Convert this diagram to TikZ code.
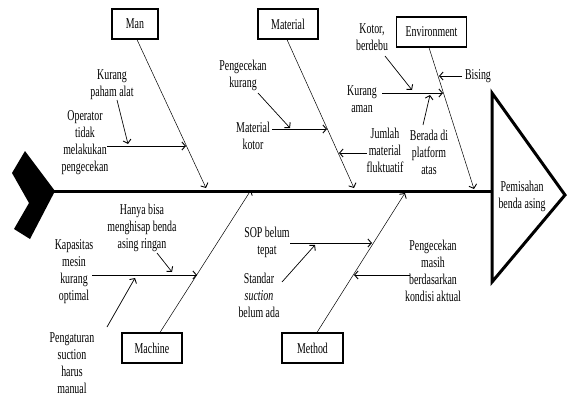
\documentclass[tikz,border=0pt]{standalone}
\usepackage{fontspec}
\setmainfont{Liberation Serif}[FakeStretch=0.66]
\usetikzlibrary{arrows.meta}

\tikzset{
  catbox/.style={draw,line width=1.2pt,minimum height=30pt,inner sep=2pt,font=\fontsize{15}{16}\selectfont},
  cause/.style={align=center,inner sep=0.75pt,font=\fontsize{15}{17}\selectfont},
  bone/.style={line width=0.5pt,-{Straight Barb[length=3.5pt,width=8pt,line width=0.9pt]}},
  sub/.style={line width=0.7pt,-{Straight Barb[length=3.5pt,width=8pt,line width=0.9pt]}},
}

\begin{document}
\begin{tikzpicture}[x=1pt,y=1pt,yscale=-1,xscale=1]
\useasboundingbox (0,0) rectangle (570,396);

%Shape: Tail
\fill (25,151) -- (55,191) -- (30,239) -- (14,229) -- (29,203) -- (12,173) -- cycle ;
%Shape: Head
\draw [line width=3pt,line join=miter] (492,93) -- (565,195) -- (492,282) -- cycle ;
%Straight Lines: Spine
\coordinate (spinestart) at (53,191);
\coordinate (spineend) at (492,191);
\draw [line width=3pt] (spinestart) -- (spineend) ;

% Text Node
\node [cause] (effect) at (522,196) {Pemisahan\\benda asing};

% Category boxes
\node [catbox,minimum width=46pt] (man) at (135,24) {Man};
\node [catbox,minimum width=60pt] (material) at (288,24) {Material};
\node [catbox,minimum width=70pt] (environment) at (431.5,32) {Environment};
\node [catbox,minimum width=60pt] (machine) at (152,348) {Machine};
\node [catbox,minimum width=61pt] (method) at (312.5,348) {Method};

% Bones
\coordinate (manend) at (206,188);
\coordinate (materialend) at (354,188);
\coordinate (environmentend) at (474,189);
\coordinate (machineend) at (251,190);
\coordinate (methodend) at (405,193);
\draw [bone] ([xshift=2pt]man.south) -- (manend) ;
\draw [bone] ([xshift=-1pt]material.south) -- (materialend) ;
\draw [bone] ([xshift=-2.5pt]environment.south) -- (environmentend) ;
\draw [bone] ([xshift=8pt]machine.north) -- (machineend) ;
\draw [bone] ([xshift=4.5pt]method.north) -- (methodend) ;

% Text Node: Man
\node [cause] (operator) at (85,143) {Operator\\tidak\\melakukan\\pengecekan};
\node [cause] (paham) at (112,85) {Kurang\\paham alat};
\coordinate (operatorstart) at (107,146);
\coordinate (operatorend) at (186,146);
\coordinate (pahamstart) at (117,100);
\coordinate (pahamend) at (128,144);
\draw [sub] (operatorstart) -- (operatorend) ;
\draw [sub] (pahamstart) -- (pahamend) ;

% Text Node: Material
\node [cause] (pengkurang) at (243,75) {Pengecekan\\kurang};
\node [cause] (matkotor) at (253,136) {Material\\kotor};
\node [cause] (jumlah) at (385,150) {Jumlah\\material\\fluktuatif};
\coordinate (pengkurangstart) at (258,93);
\coordinate (pengkurangend) at (290,128);
\coordinate (matkotorstart) at (272,129);
\coordinate (matkotorend) at (327,129);
\coordinate (jumlahstart) at (367,153);
\coordinate (jumlahend) at (339,153);
\draw [sub] (pengkurangstart) -- (pengkurangend) ;
\draw [sub] (matkotorstart) -- (matkotorend) ;
\draw [sub] (jumlahstart) -- (jumlahend) ;

% Text Node: Environment
\node [cause] (kotor) at (372,37) {Kotor,\\berdebu};
\node [cause] (aman) at (362,99) {Kurang\\aman};
\node [cause] (bising) at (478,76) {Bising};
\node [cause] (berada) at (429,152) {Berada di\\platform\\atas};
\coordinate (kotorstart) at (385,56);
\coordinate (kotorend) at (412,90);
\coordinate (amanstart) at (382,93);
\coordinate (amanend) at (443,93);
\coordinate (bisingstart) at (462,76);
\coordinate (bisingend) at (439,76);
\coordinate (beradastart) at (423,125);
\coordinate (beradaend) at (430,95);
\draw [sub] (kotorstart) -- (kotorend) ;
\draw [sub] (amanstart) -- (amanend) ;
\draw [sub] (bisingstart) -- (bisingend) ;
\draw [sub] (beradastart) -- (beradaend) ;

% Text Node: Machine
\node [cause] (hanya) at (142,228) {Hanya bisa\\menghisap benda\\asing ringan};
\node [cause] (kapasitas) at (74,272) {Kapasitas\\mesin\\kurang\\optimal};
\node [cause] (pengaturan) at (72,363) {Pengaturan\\suction\\harus\\manual};
\coordinate (hanyastart) at (157,253);
\coordinate (hanyaend) at (172,272);
\coordinate (kapasitasstart) at (92,275);
\coordinate (kapasitasend) at (197,275);
\coordinate (pengaturanstart) at (107,327);
\coordinate (pengaturanend) at (135,278);
\draw [sub] (hanyastart) -- (hanyaend) ;
\draw [sub] (kapasitasstart) -- (kapasitasend) ;
\draw [sub] (pengaturanstart) -- (pengaturanend) ;

% Text Node: Method
\node [cause] (sop) at (267,242) {SOP belum\\tepat};
\node [cause] (standar) at (259,295) {Standar\\\textit{suction}\\belum ada};
\node [cause] (masih) at (433,271) {Pengecekan\\masih\\berdasarkan\\kondisi aktual};
\coordinate (sopstart) at (290,243);
\coordinate (sopend) at (372,243);
\coordinate (standarstart) at (282,282);
\coordinate (standarend) at (315,245);
\coordinate (masihstart) at (410,275);
\coordinate (masihend) at (354,275);
\draw [sub] (sopstart) -- (sopend) ;
\draw [sub] (standarstart) -- (standarend) ;
\draw [sub] (masihstart) -- (masihend) ;

\end{tikzpicture}
\end{document}
